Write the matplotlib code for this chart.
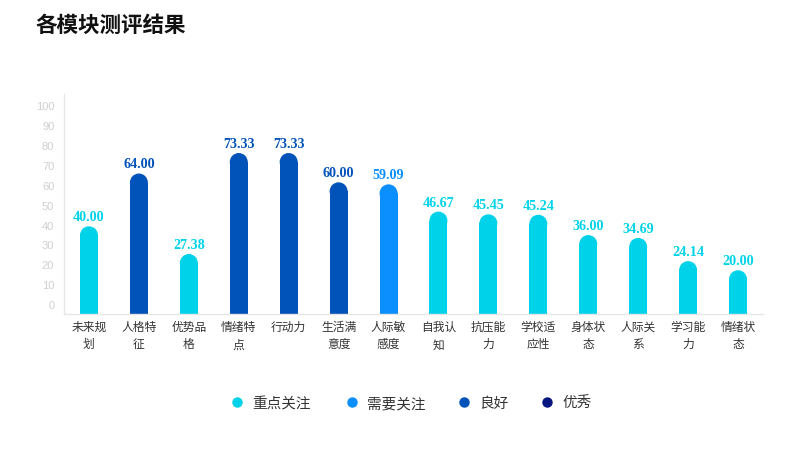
import numpy as np
import matplotlib
matplotlib.use('Agg')
import matplotlib.pyplot as plt
from matplotlib.patches import Ellipse
from matplotlib.lines import Line2D

plt.rcParams['font.family'] = ['Noto Sans CJK SC', 'DejaVu Sans']

# data
modules = ['未来规划', '人格特征', '优势品格', '情绪特点', '行动力', '生活满意度', '人际敏感度',
           '自我认知', '抗压能力', '学校适应性', '身体状态', '人际关系', '学习能力', '情绪状态']
scores = [40.00, 64.00, 27.38, 73.33, 73.33, 60.00, 59.09,
          46.67, 45.45, 45.24, 36.00, 34.69, 24.14, 20.00]
levels = ['重点关注', '良好', '重点关注', '良好', '良好', '良好', '需要关注',
          '重点关注', '重点关注', '重点关注', '重点关注', '重点关注', '重点关注', '重点关注']
level_names = ['重点关注', '需要关注', '良好', '优秀']
level_colors = {'重点关注': '#00D3E9', '需要关注': '#0B8FFF', '良好': '#0152B9', '优秀': '#08167F'}
ytick_labels = [str(v) for v in range(0, 101, 10)]


def wrap(s, n=3):
    return '\n'.join(s[i:i + n] for i in range(0, len(s), n))


W, H, DPI = 800, 452, 100
fig = plt.figure(figsize=(W / DPI, H / DPI), dpi=DPI)
ax_l, ax_r, ax_t, ax_b = 64, 763, 95.4, 315.2   # pixel box of the plot area
ax = fig.add_axes([ax_l / W, 1 - ax_b / H, (ax_r - ax_l) / W, (ax_b - ax_t) / H])
ax.set_xlim(-0.5, len(modules) - 0.5)
ax.set_ylim(0, 100)

bar_w = 0.36
px_per_x = (ax_r - ax_l) / len(modules)
px_per_y = (ax_b - ax_t) / 100
r_px = bar_w * px_per_x / 2
r_y = r_px / px_per_y

x = np.arange(len(modules))
for xi, v, lev in zip(x, scores, levels):
    c = level_colors[lev]
    ax.bar(xi, v - r_y, width=bar_w, color=c, linewidth=0, zorder=2)
    ax.add_patch(Ellipse((xi, v - r_y), bar_w, 2 * r_y, color=c, linewidth=0, zorder=2))
    ax.annotate(f'{v:.2f}', (xi, v), xytext=(0, 2.2), textcoords='offset points',
                ha='center', va='bottom', color=c, fontsize=10.2, fontweight='bold',
                family='Liberation Serif')

# y tick labels sit slightly offset from the bar scale in the original
ax.set_yticks([4.6 + k * 9.05 for k in range(11)])
ax.set_yticklabels(ytick_labels, color='#CFCFCF', fontsize=8, family='Liberation Sans')
ax.tick_params(axis='y', length=0, pad=7)
ax.set_xticks(x)
ax.set_xticklabels([wrap(m) for m in modules], fontsize=8.5, color='#333333', linespacing=1.45)
ax.tick_params(axis='x', length=0, pad=4)

for s in ['top', 'right']:
    ax.spines[s].set_visible(False)
for s in ['left', 'bottom']:
    ax.spines[s].set_color('#E6E6E6')
    ax.spines[s].set_linewidth(1)

fig.text(35 / W, 1 - 25 / H, '各模块测评结果', fontsize=15.5, fontweight='bold',
         color='#111111', va='center', ha='left')

# legend drawn by hand so the labels share one baseline
leg_y = 1 - 403 / H
leg_base = 1 - 408 / H
leg_marker_x = [237, 352, 464, 547]
for mx, name in zip(leg_marker_x, level_names):
    fig.add_artist(Line2D([mx / W], [leg_y], marker='o', linestyle='', markersize=7.5,
                          markerfacecolor=level_colors[name], markeredgewidth=0,
                          transform=fig.transFigure))
    fig.text((mx + 15) / W, leg_base, name, fontsize=10.5, color='#333333',
             ha='left', va='baseline')

fig.savefig('out.png', dpi=DPI)
